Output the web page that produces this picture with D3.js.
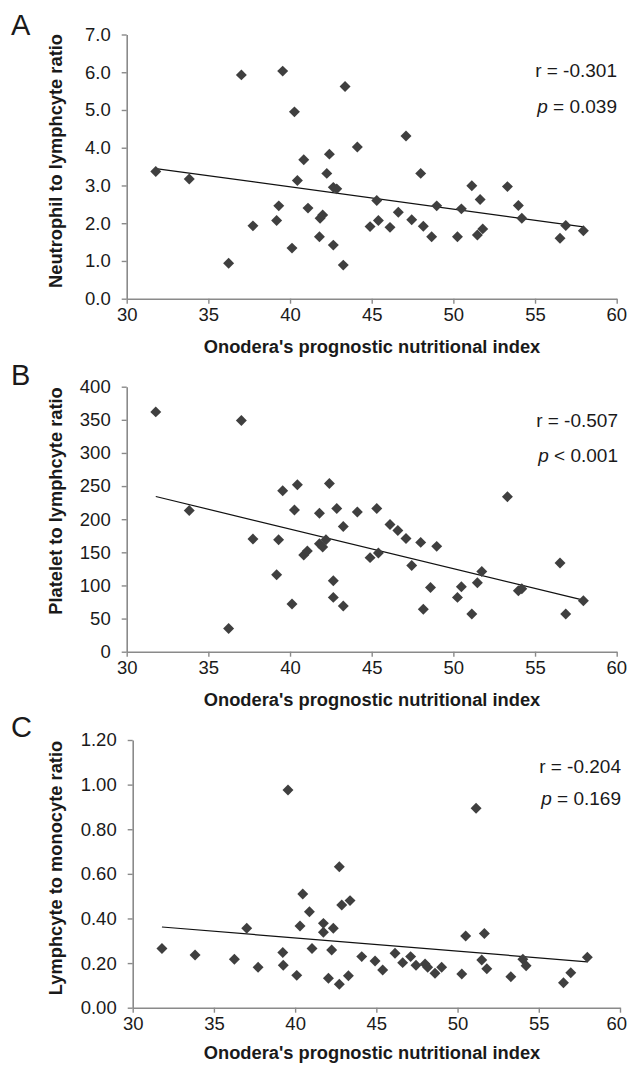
<!DOCTYPE html>
<html>
<head>
<meta charset="utf-8">
<script src="https://cdn.jsdelivr.net/npm/d3@7"></script>
<style>
  html, body { margin: 0; padding: 0; background: #fff; }
  svg { display: block; }
  text { font-family: "Liberation Sans", Arial, sans-serif; fill: #1a1a1a; }
</style>
</head>
<body>
<svg id="chart" width="628" height="1065"></svg>
<script>
// ---------- DATA ----------
const xTicks = [30, 35, 40, 45, 50, 55, 60];
const xTitle = "Onodera's prognostic nutritional index";

// Panel A: Neutrophil to lymphocyte ratio
const pniA = [31.78,33.83,36.24,37.02,37.73,39.31,39.18,39.55,40.12,40.27,40.45,40.84,41.10,41.84,42.00,41.80,42.41,42.25,42.65,42.86,42.65,43.26,43.37,44.12,45.31,44.90,45.41,46.12,46.63,47.10,47.45,48.00,48.16,48.67,48.98,50.25,50.49,51.13,51.64,51.47,51.80,53.31,53.98,54.19,56.53,56.88,57.96];
const nlr  = [3.37,3.17,0.94,5.93,1.93,2.46,2.07,6.03,1.34,4.95,3.13,3.68,2.40,2.13,2.22,1.64,3.83,3.32,2.95,2.91,1.42,0.89,5.62,4.02,2.60,1.91,2.07,1.89,2.29,4.31,2.09,3.32,1.92,1.64,2.46,1.64,2.38,2.99,2.63,1.69,1.85,2.97,2.47,2.13,1.60,1.94,1.80];
const yTicksA = [0,1,2,3,4,5,6,7];

// Panel B: Platelet to lymphocyte ratio
const pniB = [31.78,33.83,36.24,37.02,37.73,39.30,39.18,39.55,40.12,40.27,40.45,40.84,41.06,41.80,41.80,42.00,42.20,42.41,42.86,43.26,42.65,42.65,43.26,44.12,45.31,44.90,45.41,46.12,46.60,47.10,47.45,48.00,48.16,48.60,48.98,50.25,50.49,51.13,51.47,51.74,53.31,53.98,54.19,56.53,56.88,57.96];
const plr  = [362,213,35,349,170,169,116,243,72,214,252,146,152,209,163,158,169,254,216,189,107,82,69,211,216,142,149,192,183,171,130,165,64,97,159,82,98,57,104,121,234,92,95,134,57,77];
const yTicksB = [0,50,100,150,200,250,300,350,400];

// Panel C: Lymphocyte to monocyte ratio
const pniC = [31.80,33.84,36.26,37.02,37.72,39.24,39.27,39.56,40.10,40.30,40.47,40.88,41.04,41.74,41.74,42.35,42.25,42.05,42.72,42.72,42.87,43.38,43.28,44.10,44.92,45.39,46.15,46.62,47.11,47.44,48.00,48.16,48.61,49.02,50.26,50.50,51.14,51.49,51.65,51.80,53.28,54.02,54.22,56.52,56.97,57.99];
const lmr  = [0.265,0.236,0.217,0.356,0.181,0.247,0.190,0.976,0.145,0.366,0.510,0.430,0.265,0.378,0.338,0.356,0.259,0.132,0.632,0.105,0.460,0.480,0.143,0.229,0.209,0.169,0.244,0.202,0.229,0.190,0.196,0.181,0.154,0.181,0.151,0.321,0.894,0.214,0.333,0.175,0.139,0.217,0.188,0.112,0.157,0.226];
const yTicksC = [0,0.2,0.4,0.6,0.8,1.0,1.2];

const panelLetters = ["A", "B", "C"];
const yTitles = ["Neutrophil to lymphcyte ratio", "Platelet to lymphcyte ratio", "Lymphcyte to monocyte ratio"];
const rLabels = ["r = -0.301", "r = -0.507", "r = -0.204"];
const pLabels = ["= 0.039", "< 0.001", "= 0.169"];

// ---------- LAYOUT ----------
const panels = [
  { letter: panelLetters[0], xs: pniA, ys: nlr, yTicks: yTicksA, yFmt: d3.format(".1f"),
    left: 126.7, right: 616.7, top: 34.5, bottom: 298.7, yTitle: yTitles[0], yTitleCy: 161,
    r: rLabels[0], p: pLabels[0], rY: 77, pY: 112.5, lblRight: 617, letterY: 35, xTitleY: 353 },
  { letter: panelLetters[1], xs: pniB, ys: plr, yTicks: yTicksB, yFmt: d3.format("d"),
    left: 126.7, right: 616.7, top: 386.7, bottom: 651.7, yTitle: yTitles[1], yTitleCy: 501,
    r: rLabels[1], p: pLabels[1], rY: 427, pY: 461.5, lblRight: 618, letterY: 385, xTitleY: 706 },
  { letter: panelLetters[2], xs: pniC, ys: lmr, yTicks: yTicksC, yFmt: d3.format(".2f"),
    left: 132.7, right: 620, top: 740, bottom: 1007.7, yTitle: yTitles[2], yTitleCy: 868,
    r: rLabels[2], p: pLabels[2], rY: 773, pY: 805, lblRight: 621, letterY: 736.5, xTitleY: 1059 }
];

const svg = d3.select("#chart");
const W = 628;
const axisColor = "#8a8a8a";
const markColor = "#3f3f3f";
const tickFont = 18.5, titleFont = 18.3, statFont = 19;
const diamond = d3.symbol().type(d3.symbolSquare).size(60);

function linfit(xs, ys) {
  const mx = d3.mean(xs), my = d3.mean(ys);
  let sxy = 0, sxx = 0;
  for (let i = 0; i < xs.length; i++) { sxy += (xs[i]-mx)*(ys[i]-my); sxx += (xs[i]-mx)**2; }
  const b = sxy / sxx;
  return { a: my - b*mx, b };
}

panels.forEach(P => {
  const g = svg.append("g");
  const yMax = P.yTicks[P.yTicks.length - 1];
  const x = d3.scaleLinear().domain([30, 60]).range([P.left, P.right]);
  const y = d3.scaleLinear().domain([0, yMax]).range([P.bottom, P.top]);

  // axes
  const xAxis = d3.axisBottom(x).tickValues(xTicks).tickSize(5).tickPadding(4).tickSizeOuter(0).tickFormat(d3.format("d"));
  const yAxis = d3.axisLeft(y).tickValues(P.yTicks).tickSize(5).tickPadding(11).tickSizeOuter(0).tickFormat(P.yFmt);

  const gx = g.append("g").attr("transform", `translate(0,${P.bottom})`).call(xAxis);
  const gy = g.append("g").attr("transform", `translate(${P.left},0)`).call(yAxis);
  [gx, gy].forEach(a => {
    a.select(".domain").attr("stroke", axisColor).attr("stroke-width", 1.6);
    a.selectAll(".tick line").attr("stroke", axisColor).attr("stroke-width", 1.4);
    a.selectAll(".tick text").attr("font-size", tickFont).attr("fill", "#1a1a1a")
      .style("font-family", '"Liberation Sans", Arial, sans-serif');
  });
  // keep x tick labels inside the page
  gx.selectAll(".tick text").each(function() {
    const bb = this.getBBox();
    const tx = +this.parentNode.getAttribute("transform").match(/translate\(([-\d.]+)/)[1];
    const overflow = tx + bb.x + bb.width - (W - 1);
    if (overflow > 0) d3.select(this).attr("dx", -overflow);
  });

  // regression line
  const f = linfit(P.xs, P.ys);
  const x0 = d3.min(P.xs), x1 = d3.max(P.xs);
  g.append("line")
    .attr("x1", x(x0)).attr("y1", y(f.a + f.b*x0))
    .attr("x2", x(x1)).attr("y2", y(f.a + f.b*x1))
    .attr("stroke", "#111").attr("stroke-width", 1.2);

  // points
  g.selectAll("path.pt").data(P.xs.map((v, i) => [v, P.ys[i]])).join("path")
    .attr("class", "pt")
    .attr("d", diamond)
    .attr("transform", d => `translate(${x(d[0])},${y(d[1])}) rotate(45)`)
    .attr("fill", markColor);

  // titles
  g.append("text").attr("x", 372).attr("y", P.xTitleY).attr("text-anchor", "middle")
    .attr("font-size", titleFont).attr("font-weight", "bold").text(xTitle);
  g.append("text").attr("transform", `translate(62,${P.yTitleCy}) rotate(-90)`).attr("text-anchor", "middle")
    .attr("font-size", titleFont).attr("font-weight", "bold").text(P.yTitle);

  // panel letter
  g.append("text").attr("x", 11).attr("y", P.letterY).attr("font-size", 29).text(P.letter);

  // stats
  g.append("text").attr("x", P.lblRight).attr("y", P.rY).attr("text-anchor", "end")
    .attr("font-size", statFont).text(P.r);
  const pt = g.append("text").attr("x", P.lblRight).attr("y", P.pY).attr("text-anchor", "end")
    .attr("font-size", statFont);
  pt.append("tspan").attr("font-style", "italic").text("p");
  pt.append("tspan").text(" " + P.p);
});
</script>
</body>
</html>
